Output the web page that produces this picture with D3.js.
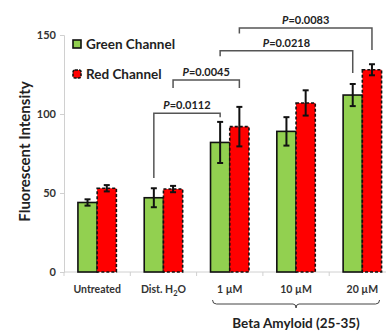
<!DOCTYPE html>
<html>
<head>
<meta charset="utf-8">
<script src="https://cdn.jsdelivr.net/npm/d3@7"></script>
<style>
  body { margin: 0; background: #fff; }
  svg { font-family: Lato, "Liberation Sans", sans-serif; font-weight: bold; }
</style>
</head>
<body>
<div id="chart"></div>
<script>
// Data
const categories = ['Untreated', 'Dist. H2O', '1 µM', '10 µM', '20 µM'];
const series = ['Green Channel', 'Red Channel'];
const greenValues = [44, 47, 82, 89, 112];
const greenErrors = [2, 6, 13, 9, 7];
const redValues = [53, 52.5, 92, 107, 128];
const redErrors = [2, 2, 12.5, 8, 3.5];
const yTicks = [0, 50, 100, 150];

// significance brackets: [fromCat, fromSeries, toCat, toSeries, barLevel, leftLegEnd, rightLegEnd, label]
const brackets = [
  ['Dist. H2O', 0, '1 µM', 0, 100.5, 59.5, 98, '=0.0112'],
  ['Dist. H2O', 1, '1 µM', 1, 121.5, 116.5, 116.5, '=0.0045'],
  ['1 µM', 0, '20 µM', 0, 140, 136.5, 126, '=0.0218'],
  ['1 µM', 1, '20 µM', 1, 154.5, 151, 140.5, '=0.0083']
];

const W = 386, H = 334;
const margin = { top: 35, left: 64, bottom: 62 };
const plotH = H - margin.top - margin.bottom;

const svg = d3.select('#chart').append('svg')
  .attr('width', W).attr('height', H);

const x = d3.scaleBand()
  .domain(categories)
  .range([margin.left, margin.left + 5 * 66.3])
  .paddingInner(0.42)
  .paddingOuter(0.21);

const xs = d3.scaleBand().domain([0, 1]).range([0, x.bandwidth()]);

const y = d3.scaleLinear().domain([0, 150]).range([margin.top + plotH, margin.top]);

// Y axis
svg.append('g')
  .attr('transform', `translate(${margin.left},0)`)
  .call(d3.axisLeft(y).tickValues(yTicks).tickSize(4).tickPadding(4))
  .call(g => g.select('.domain').attr('stroke', '#d0d0d0'))
  .call(g => g.selectAll('.tick line').attr('stroke', '#d0d0d0'))
  .call(g => g.selectAll('text').attr('fill', '#333').style('font-size', '11px').style('font-weight', 'bold').style('font-family', 'Lato, sans-serif'));

// X axis line with boundary ticks
const step = x.step();
const x0 = x.range()[0];
svg.append('line')
  .attr('x1', x0).attr('x2', W)
  .attr('y1', y(0)).attr('y2', y(0))
  .attr('stroke', '#d0d0d0');
svg.selectAll('.xtick')
  .data(d3.range(categories.length + 1))
  .enter().append('line')
  .attr('x1', i => x0 + i * step).attr('x2', i => x0 + i * step)
  .attr('y1', y(0)).attr('y2', y(0) + 4)
  .attr('stroke', '#d0d0d0');

// X labels
const xl = svg.selectAll('.xlab')
  .data(categories)
  .enter().append('text')
  .attr('x', d => x(d) + x.bandwidth() / 2)
  .attr('y', 293)
  .attr('text-anchor', 'middle')
  .attr('fill', '#333')
  .style('font-size', '10.5px');
xl.each(function (d) {
  const t = d3.select(this);
  if (d === 'Dist. H2O') {
    t.append('tspan').text('Dist. H');
    t.append('tspan').attr('dy', 3).style('font-size', '7.5px').text('2');
    t.append('tspan').attr('dy', -3).text('O');
  } else {
    t.text(d);
  }
});

// Y label
svg.append('text')
  .attr('transform', `translate(30,${margin.top + plotH / 2 - 2}) rotate(-90)`)
  .attr('text-anchor', 'middle')
  .attr('fill', '#222')
  .style('font-size', '15px')
  .text('Fluorescent Intensity');

// Bars
const rows = categories.map((c, i) => ({
  cat: c,
  vals: [
    { s: 0, v: greenValues[i], e: greenErrors[i] },
    { s: 1, v: redValues[i], e: redErrors[i] }
  ]
}));
const fills = ['#92d050', '#ff0000'];

const grp = svg.selectAll('.grp')
  .data(rows)
  .enter().append('g')
  .attr('transform', d => `translate(${x(d.cat)},0)`);

grp.selectAll('rect')
  .data(d => d.vals)
  .enter().append('rect')
  .attr('x', d => xs(d.s))
  .attr('y', d => y(d.v))
  .attr('width', xs.bandwidth())
  .attr('height', d => y(0) - y(d.v))
  .attr('fill', d => fills[d.s])
  .attr('stroke', '#111')
  .attr('stroke-width', 1.6)
  .attr('stroke-dasharray', d => d.s === 1 ? '3,2' : null);

// Error bars
const eb = grp.selectAll('.err')
  .data(d => d.vals)
  .enter().append('g')
  .attr('stroke', '#111')
  .attr('stroke-width', 2);
eb.append('line')
  .attr('x1', d => xs(d.s) + xs.bandwidth() / 2).attr('x2', d => xs(d.s) + xs.bandwidth() / 2)
  .attr('y1', d => y(d.v - d.e)).attr('y2', d => y(d.v + d.e));
eb.append('line')
  .attr('x1', d => xs(d.s) + xs.bandwidth() / 2 - 3).attr('x2', d => xs(d.s) + xs.bandwidth() / 2 + 3)
  .attr('y1', d => y(d.v + d.e)).attr('y2', d => y(d.v + d.e));
eb.append('line')
  .attr('x1', d => xs(d.s) + xs.bandwidth() / 2 - 3).attr('x2', d => xs(d.s) + xs.bandwidth() / 2 + 3)
  .attr('y1', d => y(d.v - d.e)).attr('y2', d => y(d.v - d.e));

// Brackets
const bx = (c, s) => x(c) + xs(s) + xs.bandwidth() / 2;
const br = svg.selectAll('.br')
  .data(brackets)
  .enter().append('g');
br.append('path')
  .attr('d', d => {
    const xa = bx(d[0], d[1]), xb = bx(d[2], d[3]);
    return `M${xa},${y(d[5])}V${y(d[4])}H${xb}V${y(d[6])}`;
  })
  .attr('fill', 'none')
  .attr('stroke', '#555')
  .attr('stroke-width', 1.5);
const bt = br.append('text')
  .attr('x', d => (bx(d[0], d[1]) + bx(d[2], d[3])) / 2)
  .attr('y', d => y(d[4]) - 4)
  .attr('text-anchor', 'middle')
  .attr('fill', '#222')
  .style('font-size', '11px');
bt.append('tspan').style('font-style', 'italic').text('P');
bt.append('tspan').text(d => d[7]);

// Brace under beta amyloid groups
const bxa = x('1 µM') + 2, bxb = x('20 µM') + x.bandwidth() - 2;
const by = 300, bm = (bxa + bxb) / 2;
svg.append('path')
  .attr('d', `M${bxa},${by}q0,4 4,4H${bm - 3}q3,0 3,4q0,-4 3,-4H${bxb - 4}q4,0 4,-4`)
  .attr('fill', 'none')
  .attr('stroke', '#444')
  .attr('stroke-width', 1);
svg.append('text')
  .attr('x', bm)
  .attr('y', 328)
  .attr('text-anchor', 'middle')
  .attr('fill', '#222')
  .style('font-size', '13.5px')
  .text('Beta Amyloid (25-35)');

// Legend
const lg = svg.selectAll('.lg')
  .data(series)
  .enter().append('g')
  .attr('transform', (d, i) => `translate(73,${40 + i * 30})`);
lg.append('rect')
  .attr('width', 8).attr('height', 8)
  .attr('rx', (d, i) => i ? 2 : 0)
  .attr('fill', (d, i) => fills[i])
  .attr('stroke', '#111')
  .attr('stroke-width', 1.6)
  .attr('stroke-dasharray', (d, i) => i ? '3,1' : null);
lg.append('text')
  .attr('x', 13).attr('y', 8.5)
  .attr('fill', '#222')
  .style('font-size', '13.5px')
  .text(d => d);
</script>
</body>
</html>
